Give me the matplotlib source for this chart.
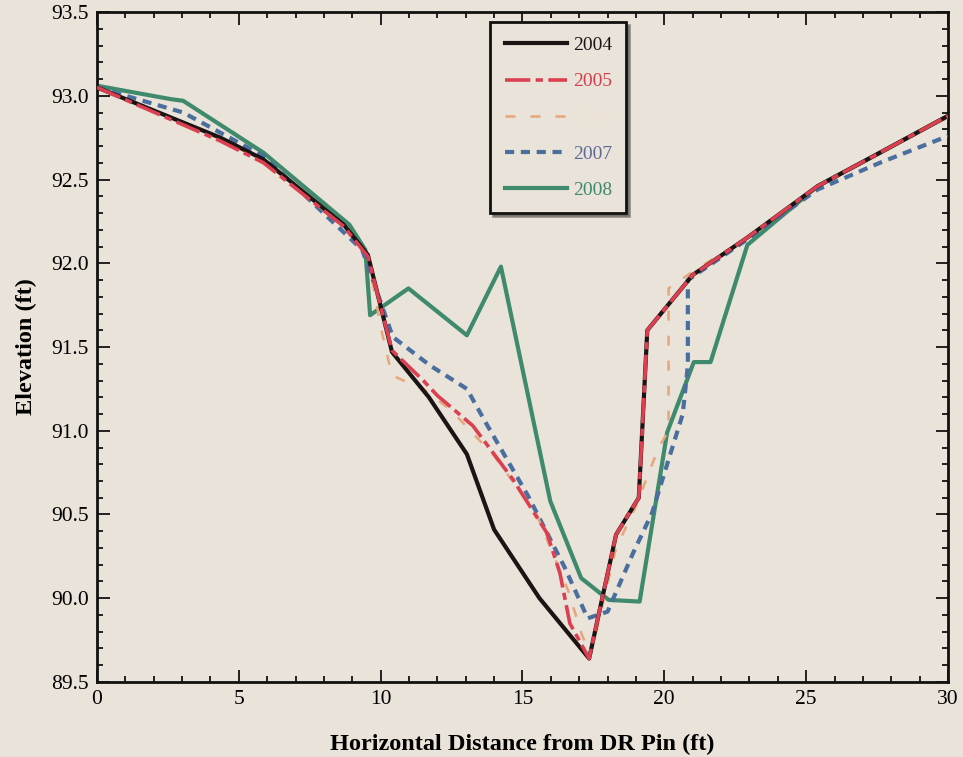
import matplotlib
matplotlib.use("Agg")
import matplotlib.pyplot as plt
from matplotlib.ticker import MultipleLocator, FormatStrFormatter

# ---- data ----
x2004 = [0, 4.35, 5.87, 8.7, 9.55, 10.4, 11.7, 13.04, 14.0, 15.6, 17.35, 18.3, 19.1, 19.4, 21.0, 22.9, 25.4, 27.6, 30]
y2004 = [93.05, 92.75, 92.62, 92.23, 92.05, 91.47, 91.2, 90.86, 90.41, 90.0, 89.64, 90.38, 90.6, 91.6, 91.93, 92.15, 92.46, 92.66, 92.88]

x2005 = [0, 4.35, 5.87, 8.7, 9.55, 10.4, 11.5, 12.0, 13.25, 14.66, 15.86, 16.32, 16.67, 17.35, 18.3, 19.1, 19.4, 21.0, 22.9, 25.4, 27.6, 30]
y2005 = [93.05, 92.73, 92.6, 92.22, 92.04, 91.48, 91.3, 91.21, 91.03, 90.71, 90.39, 90.15, 89.85, 89.64, 90.38, 90.6, 91.6, 91.93, 92.15, 92.46, 92.66, 92.88]

x2006 = [0, 4.35, 5.87, 8.7, 9.55, 10.0, 10.4, 11.5, 12.5, 14.0, 15.5, 16.6, 17.1, 17.4, 18.3, 19.0, 19.8, 20.15, 20.15, 21.0, 22.9, 25.4, 27.6, 30]
y2006 = [93.05, 92.74, 92.61, 92.22, 92.05, 91.62, 91.33, 91.25, 91.12, 90.85, 90.5, 90.05, 89.78, 89.66, 90.3, 90.55, 90.9, 91.0, 91.85, 91.95, 92.15, 92.46, 92.66, 92.87]

x2007 = [0, 3.04, 5.87, 9.35, 10.43, 11.74, 13.04, 13.7, 15.2, 16.5, 17.3, 18.0, 18.9, 19.57, 20.65, 20.83, 20.83, 22.9, 25.4, 27.6, 30]
y2007 = [93.05, 92.9, 92.64, 92.08, 91.56, 91.39, 91.25, 91.05, 90.61, 90.18, 89.88, 89.92, 90.27, 90.51, 91.1, 91.39, 91.9, 92.14, 92.44, 92.6, 92.76]

x2008 = [0, 2.6, 3.04, 5.87, 8.9, 9.46, 9.63, 10.98, 13.04, 14.24, 15.98, 17.07, 18.04, 19.13, 20.1, 21.04, 21.63, 22.93, 25.4, 27.6, 30]
y2008 = [93.06, 92.98, 92.97, 92.66, 92.23, 92.08, 91.69, 91.85, 91.57, 91.98, 90.58, 90.12, 89.99, 89.98, 90.99, 91.41, 91.41, 92.11, 92.46, 92.66, 92.88]

labels = ["2004", "2005", "2006", "2007", "2008"]
xticks = [0, 5, 10, 15, 20, 25, 30]
yticks = [89.5, 90.0, 90.5, 91.0, 91.5, 92.0, 92.5, 93.0, 93.5]

bg = "#e9e3d9"
plt.rcParams["font.family"] = ["Liberation Serif", "DejaVu Serif"]

fig = plt.figure(figsize=(9.63, 7.57), dpi=100, facecolor=bg)
ax = fig.add_axes([0.1007, 0.0991, 0.8837, 0.885], facecolor=bg)

ax.plot(x2008, y2008, color="#3f8a6c", lw=3.0, label=labels[4], zorder=2)
ax.plot(x2007, y2007, color="#4a6e9e", lw=3.0, dashes=(2.2, 1.6), label=labels[3], zorder=3)
ax.plot(x2006, y2006, color="#e6a57a", lw=1.8, dashes=(4, 6), label=labels[2], zorder=3)
ax.plot(x2004, y2004, color="#1c1414", lw=3.0, label=labels[0], zorder=4)
ax.plot(x2005, y2005, color="#dc3f50", lw=2.6, dashes=(7, 1.5, 2, 1.5), label=labels[1], zorder=5)

ax.set_xlim(0, 30)
ax.set_ylim(89.5, 93.5)
ax.set_xticks(xticks)
ax.set_yticks(yticks)
ax.yaxis.set_major_formatter(FormatStrFormatter("%.1f"))
ax.xaxis.set_minor_locator(MultipleLocator(1))
ax.yaxis.set_minor_locator(MultipleLocator(0.1))
ax.tick_params(which="both", direction="in", top=True, right=True, labelsize=15.5, width=1.2)
ax.tick_params(which="major", length=9, pad=6)
ax.tick_params(which="minor", length=4)
for s in ax.spines.values():
    s.set_linewidth(2.0)
    s.set_color("#111111")

ax.set_xlabel("Horizontal Distance from DR Pin (ft)", fontsize=17.5, fontweight="bold", labelpad=18)
ax.set_ylabel("Elevation (ft)", fontsize=17.5, fontweight="bold", labelpad=10)

handles, labs = ax.get_legend_handles_labels()
order = [labs.index(l) for l in labels]
leg = ax.legend([handles[i] for i in order], [labs[i] for i in order],
                loc="upper left", bbox_to_anchor=(0.462, 0.985), borderaxespad=0,
                fontsize=14, frameon=True, fancybox=False, shadow=True,
                handlelength=3.2, labelspacing=0.95, borderpad=0.75,
                handletextpad=0.3)
fr = leg.get_frame()
fr.set_edgecolor("#111111")
fr.set_linewidth(2.0)
fr.set_facecolor(bg)
txtcolors = ["#1c1414", "#d0404e", "#ece3d6", "#5e6a98", "#3f8a6c"]
for t, c in zip(leg.get_texts(), txtcolors):
    t.set_color(c)

fig.savefig("out.png", dpi=100, facecolor=bg)
